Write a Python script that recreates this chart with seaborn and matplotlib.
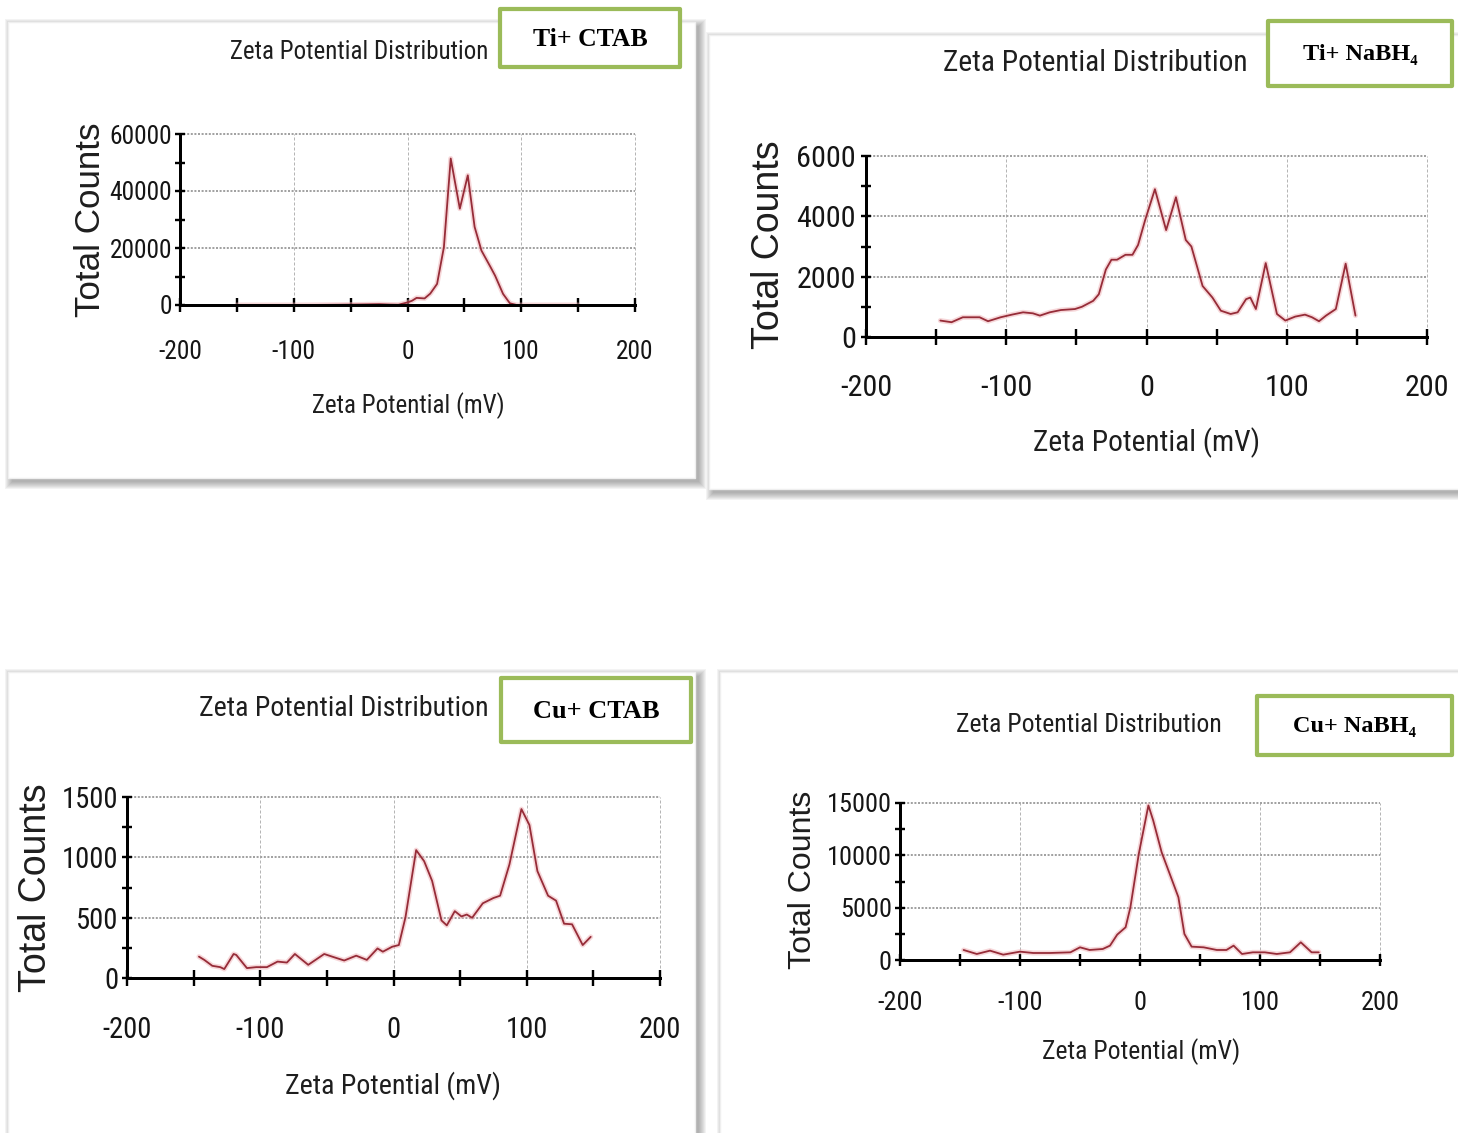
import matplotlib
matplotlib.use("Agg")
import matplotlib.pyplot as plt
from matplotlib import font_manager
from matplotlib.patches import Rectangle
from matplotlib.ticker import MultipleLocator, FixedLocator
import seaborn as sns

# ---------------------------------------------------------------- data
ti_ctab_mv = [-150, -120, -90, -60, -40, -25, -15, -8, 0, 4, 8, 15, 20, 26,
              32, 38, 46, 53, 59, 65, 73, 77, 84, 90, 96, 100, 125, 150]
ti_ctab_counts = [0, 0, 0, 100, 200, 300, 150, 100, 900, 1500, 2500, 2300,
                  4000, 7400, 20300, 51400, 33800, 45500, 27400, 19100,
                  13300, 10300, 3900, 600, 0, 0, 0, 0]

ti_nabh4_mv = [-147, -139, -131, -119, -113, -104, -96, -88, -81, -76, -69,
               -61, -51, -46, -38, -34, -29, -25, -21, -15, -10, -6, -1, 6,
               14, 21, 28, 32, 40, 47, 53, 60, 65, 71, 74, 78, 85, 93, 99,
               106, 113, 118, 123, 128, 135, 142, 149]
ti_nabh4_counts = [545, 490, 654, 654, 523, 654, 741, 818, 785, 709, 818,
                   894, 927, 1003, 1199, 1417, 2235, 2562, 2562, 2725, 2725,
                   3052, 3870, 4900, 3543, 4633, 3216, 3000, 1690, 1308, 872,
                   763, 818, 1254, 1308, 927, 2450, 763, 545, 676, 741, 654,
                   523, 709, 927, 2430, 709]

cu_ctab_mv = [-146, -142, -136, -130, -127, -120, -118, -110, -103, -95, -87,
              -80, -74, -64, -52, -46, -37, -28, -20, -12, -8, -1, 4, 9, 17,
              23, 29, 36, 40, 46, 51, 55, 59, 67, 75, 80, 87, 96, 102, 108,
              116, 122, 128, 134, 142, 148]
cu_ctab_counts = [177, 150, 101, 90, 74, 199, 191, 82, 90, 90, 136, 128, 199,
                  109, 199, 177, 145, 185, 150, 245, 218, 259, 273, 504, 1060,
                  968, 804, 477, 436, 554, 510, 526, 499, 619, 663, 682, 941,
                  1400, 1268, 886, 682, 641, 450, 445, 273, 341]

cu_nabh4_mv = [-147, -136, -125, -114, -100, -89, -75, -58, -50, -42, -31,
               -25, -19, -12, -8, -1, 7, 11, 18, 26, 32, 37, 43, 53, 64, 72,
               78, 85, 94, 104, 114, 125, 134, 143, 149]
cu_nabh4_counts = [957, 574, 893, 510, 797, 670, 670, 733, 1212, 957, 1053,
                   1372, 2424, 3126, 5040, 10144, 14770, 13334, 10304, 7847,
                   5997, 2488, 1276, 1212, 957, 957, 1372, 574, 733, 733, 574,
                   733, 1691, 733, 733]

x_ticks = [-200, -100, 0, 100, 200]
x_minor = [-150, -50, 50, 150]

title_text = "Zeta Potential Distribution"
xlabel_text = "Zeta Potential (mV)"
ylabel_text = "Total Counts"

# ---------------------------------------------------------------- style
sns.set_style("white")
plt.rcParams["font.family"] = ["Liberation Sans", "DejaVu Sans"]
plt.rcParams["axes.unicode_minus"] = False

W, H, DPI = 1458, 1133, 100
PT = 72.0 / DPI          # points per pixel

names = {f.name for f in font_manager.fontManager.ttflist}
NARROW, NSCALE = "Liberation Sans", 0.80
for fam, sc in (("Liberation Sans Narrow", 1.0), ("Roboto Condensed", 0.91),
                ("Open Sans Condensed", 0.95)):
    if fam in names:
        NARROW, NSCALE = fam, sc
        break
TICK_SCALE = 1.02

LINE = "#962c38"
GLOW = "#efb0b5"
GREEN = "#9bbb59"

fig = plt.figure(figsize=(W / DPI, H / DPI), dpi=DPI)
fig.patch.set_facecolor("white")


def fx(x):
    return x / W


def fy(y):
    return 1 - y / H


def panel(x0, y0, x1, y1):
    # blurred drop shadow, then the white card
    for g in range(8):
        fig.patches.append(Rectangle(
            (fx(x0 + 4 - g), fy(y1 + 4 + g)),
            fx(x1 - x0 + 2 * g), fy(y0) - fy(y1) + 2 * g / H,
            transform=fig.transFigure, facecolor="#505050", alpha=0.065,
            edgecolor="none", zorder=0))
    fig.patches.append(Rectangle(
        (fx(x0), fy(y1)), fx(x1 - x0), fy(y0) - fy(y1),
        transform=fig.transFigure, facecolor="white", edgecolor="#efefef",
        linewidth=1, zorder=0.5))


def tag(x0, y0, x1, y1, text, size):
    fig.patches.append(Rectangle(
        (fx(x0), fy(y1)), fx(x1 - x0), fy(y0) - fy(y1),
        transform=fig.transFigure, facecolor="white", edgecolor=GREEN,
        linewidth=4.2 * PT, joinstyle="round", zorder=5))
    fig.text(fx((x0 + x1) / 2), fy((y0 + y1) / 2 + 1), text, ha="center",
             va="center", fontsize=size, fontweight="bold", color="black",
             family=["Liberation Serif", "DejaVu Serif"], zorder=6)


def chart(box, mv, counts, ymax, ystep, fs, ylab_fs, title_xy, xlab_xy,
          ylab_xy, xpad, ypad, xlen):
    x0, x1, ytop, ybot = box
    ax = fig.add_axes([fx(x0), fy(ybot), fx(x1 - x0), fy(ytop) - fy(ybot)])
    ax.set_zorder(2)
    ax.set_facecolor("none")
    ax.set_axisbelow(True)

    sns.lineplot(x=mv, y=counts, ax=ax, color=GLOW, linewidth=3.6,
                 alpha=0.5, sort=False, estimator=None, zorder=3)
    sns.lineplot(x=mv, y=counts, ax=ax, color=LINE, linewidth=1.3,
                 sort=False, estimator=None, zorder=4)

    ax.set_xlim(-200, 200)
    ax.set_ylim(0, ymax)
    ax.xaxis.set_major_locator(FixedLocator(x_ticks))
    ax.xaxis.set_minor_locator(FixedLocator(x_minor))
    ax.yaxis.set_major_locator(MultipleLocator(ystep))
    ax.yaxis.set_minor_locator(MultipleLocator(ystep / 2))

    for s in ("top", "right"):
        ax.spines[s].set_visible(False)
    for s in ("left", "bottom"):
        ax.spines[s].set_color("black")
        ax.spines[s].set_linewidth(3.0 * PT)
        ax.spines[s].set_zorder(5)

    ax.grid(axis="y", which="major", color="#a2a2a2", linewidth=2.0 * PT,
            linestyle=(0, (1.0, 0.8)))
    ax.grid(axis="x", which="major", color="#b5b5b5", linewidth=1.0 * PT,
            linestyle=(0, (3, 2)))
    for gl in ax.get_xgridlines() + ax.get_ygridlines():
        gl.set_clip_on(False)

    tfs = fs * TICK_SCALE
    ax.tick_params(axis="x", which="both", bottom=True, direction="inout",
                   length=xlen * PT, width=2.4 * PT, color="black",
                   pad=xpad * PT, labelsize=tfs, labelcolor="#151515",
                   labelfontfamily=NARROW)
    ax.tick_params(axis="y", which="both", left=True, direction="inout",
                   length=10 * PT, width=2.4 * PT, color="black",
                   pad=ypad * PT, labelsize=tfs, labelcolor="#151515",
                   labelfontfamily=NARROW)
    ax.tick_params(axis="x", which="minor", labelbottom=False)
    ax.tick_params(axis="y", which="minor", labelleft=False)

    def to_ax(px, py):
        return (px - x0) / (x1 - x0), (ybot - py) / (ybot - ytop)

    ax.set_xlabel(xlabel_text, fontsize=fs, family=NARROW, color="#1e1e1e")
    ax.xaxis.set_label_coords(*to_ax(*xlab_xy))
    ax.xaxis.label.set_va("center")
    ax.set_ylabel(ylabel_text, fontsize=ylab_fs, color="#1e1e1e")
    ax.yaxis.set_label_coords(*to_ax(*ylab_xy))
    ax.yaxis.label.set_va("center")
    ax.yaxis.label.set_ha("center")
    tx, ty = to_ax(*title_xy)
    ax.text(tx, ty, title_text, transform=ax.transAxes, ha="center",
            va="center", fontsize=fs, family=NARROW, color="#1e1e1e",
            clip_on=False)
    return ax


# ---------------------------------------------------------------- cards
panel(8, 22, 695, 478)
panel(709, 35, 1470, 489)
panel(8, 672, 695, 1150)
panel(720, 672, 1470, 1150)

# ---------------------------------------------------------------- charts
chart((180, 635, 134, 305), ti_ctab_mv, ti_ctab_counts, 60000, 20000,
      19.8 * NSCALE, 25.2, (359, 52), (408, 406), (90, 220), 28, 3, 14)
chart((866, 1427, 156, 337), ti_nabh4_mv, ti_nabh4_counts, 6000, 2000,
      23.4 * NSCALE, 27.0, (1095, 63), (1147, 443), (769, 245), 29, 5, 16)
chart((127, 660, 797, 978), cu_ctab_mv, cu_ctab_counts, 1500, 500,
      22.2 * NSCALE, 27.0, (344, 708), (393, 1086), (36, 888), 30, 4, 16)
chart((900, 1380, 803, 960), cu_nabh4_mv, cu_nabh4_counts, 15000, 5000,
      20.4 * NSCALE, 23.0, (1089, 725), (1141, 1052), (803, 880), 25, 3, 12)

# ---------------------------------------------------------------- tags
tag(500, 9, 680, 67, "Ti+ CTAB", 18.5)
tag(1268, 21, 1452, 86, "Ti+ NaBH\u2084", 17.5)
tag(501, 678, 691, 742, "Cu+ CTAB", 19)
tag(1257, 696, 1452, 755, "Cu+ NaBH\u2084", 17.5)

fig.savefig("out.png", dpi=DPI, facecolor="white")
